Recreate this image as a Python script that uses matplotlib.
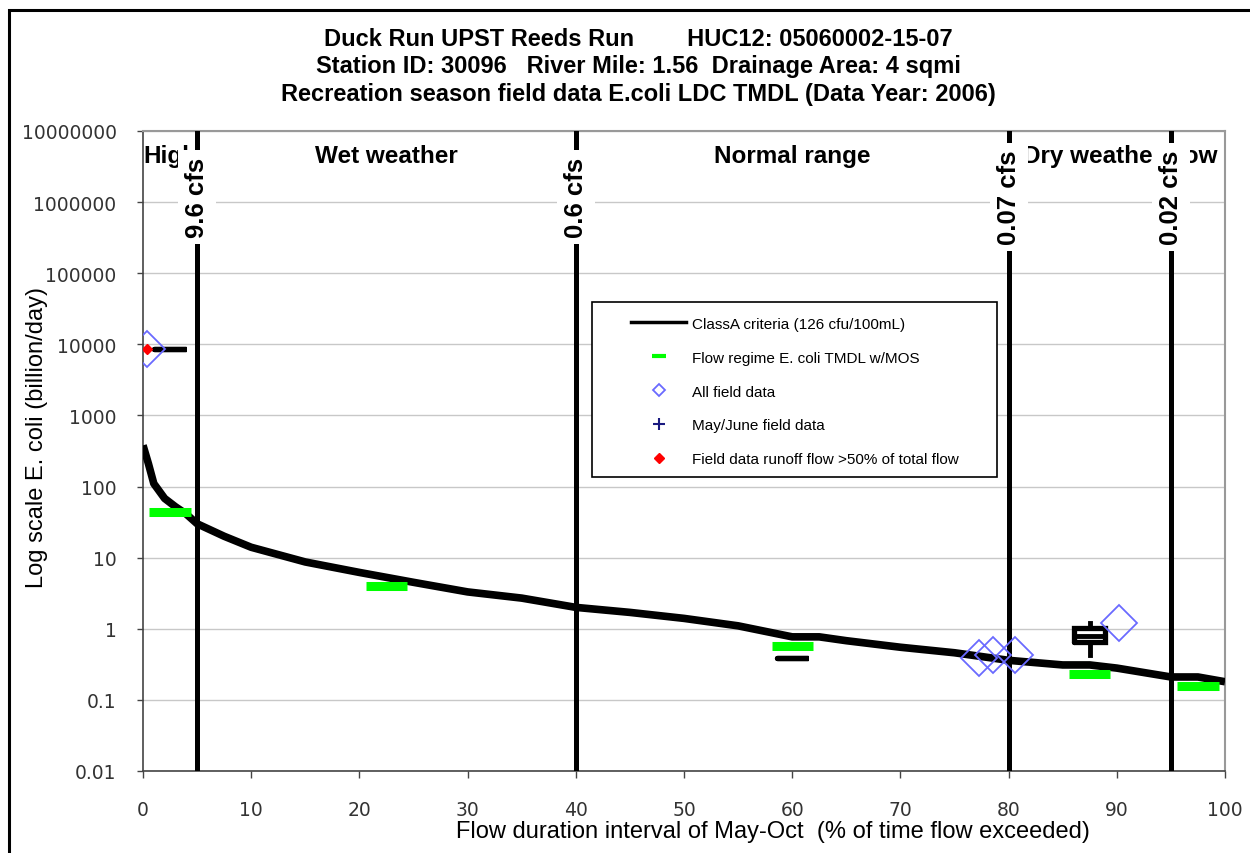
import matplotlib
matplotlib.use('Agg')
import matplotlib.pyplot as plt
from matplotlib.lines import Line2D
from matplotlib.patches import Rectangle
from matplotlib.ticker import FixedLocator, FixedFormatter, NullLocator

plt.rcParams['font.family'] = ['Liberation Sans', 'DejaVu Sans']

# ---------------- data ----------------
title_lines = [
    "Duck Run UPST Reeds Run        HUC12: 05060002-15-07",
    "Station ID: 30096   River Mile: 1.56  Drainage Area: 4 sqmi",
    "Recreation season field data E.coli LDC TMDL (Data Year: 2006)",
]
x_label = "Flow duration interval of May-Oct  (% of time flow exceeded)"
y_label = "Log scale E. coli (billion/day)"

curve_x = [0, 0.5, 1, 2, 3, 4, 5, 7.5, 10, 15, 20, 25, 30, 35, 40, 45, 50, 55,
           60, 62.5, 65, 70, 75, 80, 85, 87.5, 90, 95, 97.5, 100]
curve_y = [380, 210, 110, 68, 52, 41, 30, 20, 14, 8.7, 6.2, 4.5, 3.3, 2.7, 2.0,
           1.7, 1.4, 1.1, 0.77, 0.77, 0.68, 0.55, 0.46, 0.36, 0.31, 0.31, 0.28,
           0.21, 0.21, 0.18]

regime_mid = [2.5, 22.5, 60, 87.5, 97.5]
tmdl_mos = [44, 4.0, 0.58, 0.23, 0.158]

field_x = [0.37, 77.3, 78.6, 80.6, 90.2]
field_y = [8670, 0.39, 0.43, 0.43, 1.21]
runoff_x = [0.37]
runoff_y = [8670]

box_pos = [2.5, 60, 87.5]
box_lo = [8670, 0.39, 0.43]
box_q1 = [8670, 0.39, 0.66]
box_med = [8670, 0.39, 0.80]
box_q3 = [8670, 0.39, 1.03]
box_hi = [8670, 0.39, 1.21]

bound_x = [5, 40, 80, 95]
bound_labels = ["9.6 cfs", "0.6 cfs", "0.07 cfs", "0.02 cfs"]

zone_labels = ["High", "Wet weather", "Normal range", "Dry weather flow"]
zone_x = [0.05, 22.5, 60, 90.3]
zone_ha = ['left', 'center', 'center', 'center']

y_ticks = [0.01, 0.1, 1, 10, 100, 1000, 10000, 100000, 1000000, 10000000]
y_tick_labels = ["0.01", "0.1", "1", "10", "100", "1000", "10000", "100000",
                 "1000000", "10000000"]
x_ticks = [0, 10, 20, 30, 40, 50, 60, 70, 80, 90, 100]

legend_labels = ["ClassA criteria (126 cfu/100mL)",
                 "Flow regime E. coli TMDL w/MOS",
                 "All field data",
                 "May/June field data",
                 "Field data runoff flow >50% of total flow"]

# ---------------- figure ----------------
W, H = 1250, 854
fig = plt.figure(figsize=(W / 100, H / 100), dpi=100)
ax = fig.add_axes([143 / W, 1 - 772 / H, (1225 - 143) / W, (772 - 132) / H])
ax.set_yscale('log')
ax.set_xlim(0, 100)
ax.set_ylim(0.01, 1e7)

ax.yaxis.set_major_locator(FixedLocator(y_ticks))
ax.yaxis.set_major_formatter(FixedFormatter(y_tick_labels))
ax.yaxis.set_minor_locator(NullLocator())
ax.set_xticks(x_ticks)
ax.grid(axis='y', color='#c8c8c8', lw=1.0, zorder=0)
ax.set_axisbelow(True)

ax.tick_params(axis='y', length=4, width=1, color='#444444', pad=15,
               labelsize=13.5, labelcolor='#333333')
ax.tick_params(axis='x', length=5, width=1, color='#444444', pad=16,
               labelsize=13.5, labelcolor='#333333')
for lbl in ax.get_xticklabels() + ax.get_yticklabels():
    lbl.set_fontfamily('DejaVu Sans')

for s in ['left', 'bottom']:
    ax.spines[s].set_color('#444444')
    ax.spines[s].set_linewidth(1.2)
for s in ['top', 'right']:
    ax.spines[s].set_color('#999999')
    ax.spines[s].set_linewidth(1.5)

# regime boundary lines
for bx in bound_x:
    ax.axvline(bx, color='black', lw=3.6, zorder=3)

# criteria curve
ax.plot(curve_x, curve_y, color='black', lw=5.5, zorder=4,
        solid_joinstyle='round', solid_capstyle='butt')

# TMDL bars
ax.hlines(tmdl_mos, [m - 1.9 for m in regime_mid], [m + 1.9 for m in regime_mid],
          colors='#00ff00', lw=6.5, zorder=4, capstyle='butt')

# box plots of field data
stats = []
for lo, q1, md, q3, hi in zip(box_lo, box_q1, box_med, box_q3, box_hi):
    stats.append(dict(whislo=lo, q1=q1, med=md, q3=q3, whishi=hi))
ax.bxp(stats, positions=box_pos, widths=2.9, showfliers=False, showcaps=False,
       manage_ticks=False, zorder=5,
       boxprops=dict(color='black', lw=3.8, solid_capstyle='round',
                     solid_joinstyle='miter'),
       whiskerprops=dict(color='black', lw=3.5),
       medianprops=dict(color='black', lw=3.5, solid_capstyle='butt'))

# field data
ax.plot(field_x, field_y, ls='none', marker='D', ms=18.5, mfc='none',
        mec='#6a6aff', mew=1.3, zorder=6)
ax.plot(runoff_x, runoff_y, ls='none', marker='D', ms=5, mfc='red',
        mec='red', zorder=7)

# zone labels
for lab, zx, ha in zip(zone_labels, zone_x, zone_ha):
    ax.text(zx, 0.961, lab, transform=ax.get_xaxis_transform(), ha=ha,
            va='center', fontsize=17.5, fontweight='bold', zorder=7)

# boundary labels
for bx, lab in zip(bound_x, bound_labels):
    ax.text(bx, 0.897, lab, transform=ax.get_xaxis_transform(), ha='center',
            va='center', rotation=90, fontsize=18.5, fontweight='bold',
            zorder=8, bbox=dict(facecolor='white', edgecolor='none', pad=5))

# legend
lx0, lx1 = (592 - 143) / 1082, (997 - 143) / 1082
ly0, ly1 = (772 - 478) / 640, (772 - 303) / 640
ax.add_patch(Rectangle((lx0, ly0), lx1 - lx0, ly1 - ly0, transform=ax.transAxes,
                       facecolor='white', edgecolor='black', lw=1.2, zorder=9))
handles = [
    Line2D([], [], color='black', lw=2.5),
    Line2D([], [], ls='none', marker='_', ms=10, mew=3, color='#00ff00'),
    Line2D([], [], ls='none', marker='D', ms=6, mfc='none', mec='#6a6aff', mew=1.3),
    Line2D([], [], ls='none', marker='+', ms=9, mew=1.5, color='#1a1a80'),
    Line2D([], [], ls='none', marker='D', ms=5, mfc='red', mec='red'),
]
leg = ax.legend(handles, legend_labels, loc='upper left',
                bbox_to_anchor=(lx0 + 0.025, ly1 - 0.004), frameon=False,
                fontsize=11, handlelength=3.6, handletextpad=0.4,
                labelspacing=1.3, borderpad=0.3)
leg.set_zorder(10)

# titles / axis labels
for i, t in enumerate(title_lines):
    fig.text(638 / W, 1 - (40 + 27 * i) / H, t, ha='center', va='center',
             fontsize=17, fontweight='bold')
fig.text(773 / W, 1 - 832 / H, x_label, ha='center', va='center', fontsize=17)
fig.text(37 / W, 1 - 438 / H, y_label, ha='center', va='center', fontsize=17,
         rotation=90)

# outer border
fig.add_artist(Rectangle((9 / W, -0.2), 1.5, 1.2 - 11 / H, transform=fig.transFigure,
                         fill=False, edgecolor='black', lw=2.2, clip_on=False))

fig.savefig('out.png', dpi=100)
